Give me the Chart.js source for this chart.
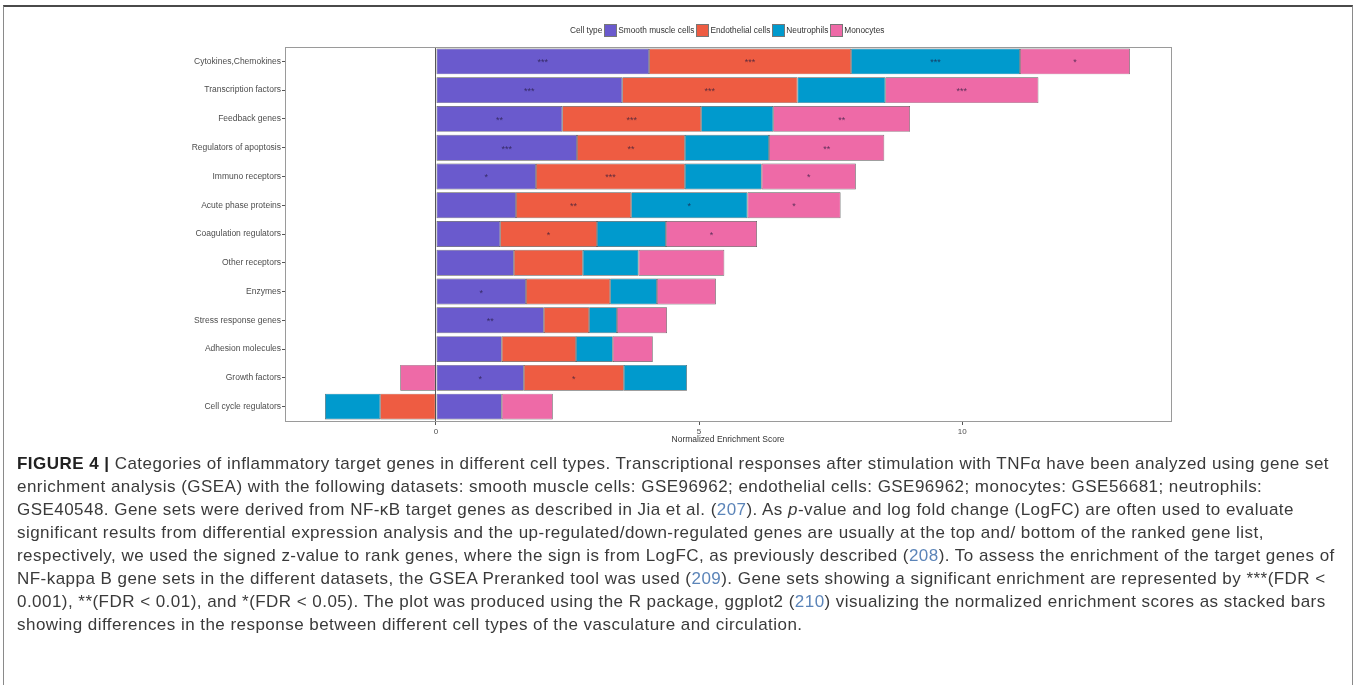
<!DOCTYPE html>
<html>
<head>
<meta charset="utf-8">
<script src="https://cdn.jsdelivr.net/npm/chart.js@4.4.0/dist/chart.umd.min.js"></script>
<style>
  html, body { margin: 0; padding: 0; background: #fff; }
  body { width: 1358px; height: 685px; position: relative; overflow: hidden; font-family: 'Liberation Sans', Arial, sans-serif; }
  #frame { position: absolute; left: 3px; top: 5px; width: 1350px; height: 720px; border-left: 1px solid #8a8a8a; border-right: 1px solid #8a8a8a; border-top: 2px solid #4a4a4a; box-sizing: border-box; }
  #chartWrap { position: absolute; left: 0; top: 0; width: 1358px; height: 455px; }
  #legend { position: absolute; left: 570px; top: 23px; height: 14px; display: flex; align-items: center; font-size: 8.3px; color: #333; white-space: nowrap; }
  #legend .ttl { margin-right: 2px; }
  #legend .item { display: flex; align-items: center; margin-right: 2px; }
  #legend .box { width: 13px; height: 13px; box-sizing: border-box; border: 1px solid #777; margin-right: 1px; }
  #caption { position: absolute; left: 17px; top: 452px; font-size: 17px; line-height: 23px; color: #3a3a3a; white-space: nowrap; }
  #caption b { color: #222; }
  #caption .ref { color: #5b84b8; }
</style>
</head>
<body>
<div id="frame"></div>
<div id="chartWrap"><canvas id="c" width="1358" height="455"></canvas></div>
<div id="legend"></div>
<div id="caption">
<div class="ln"><b>FIGURE 4 |</b> Categories of inflammatory target genes in different cell types. Transcriptional responses after stimulation with TNFα have been analyzed using gene set</div>
<div class="ln">enrichment analysis (GSEA) with the following datasets: smooth muscle cells: GSE96962; endothelial cells: GSE96962; monocytes: GSE56681; neutrophils:</div>
<div class="ln">GSE40548. Gene sets were derived from NF-κB target genes as described in Jia et al. (<span class="ref">207</span>). As <i>p</i>-value and log fold change (LogFC) are often used to evaluate</div>
<div class="ln">significant results from differential expression analysis and the up-regulated/down-regulated genes are usually at the top and/ bottom of the ranked gene list,</div>
<div class="ln">respectively, we used the signed z-value to rank genes, where the sign is from LogFC, as previously described (<span class="ref">208</span>). To assess the enrichment of the target genes of</div>
<div class="ln">NF-kappa B gene sets in the different datasets, the GSEA Preranked tool was used (<span class="ref">209</span>). Gene sets showing a significant enrichment are represented by ***(FDR &lt;</div>
<div class="ln">0.001), **(FDR &lt; 0.01), and *(FDR &lt; 0.05). The plot was produced using the R package, ggplot2 (<span class="ref">210</span>) visualizing the normalized enrichment scores as stacked bars</div>
<div class="ln">showing differences in the response between different cell types of the vasculature and circulation.</div>
</div>
<script>
// ---------------- DATA ----------------
const categories = ["Cytokines,Chemokines","Transcription factors","Feedback genes","Regulators of apoptosis","Immuno receptors","Acute phase proteins","Coagulation regulators","Other receptors","Enzymes","Stress response genes","Adhesion molecules","Growth factors","Cell cycle regulators"];
const seriesNames = ["Smooth muscle cells","Endothelial cells","Neutrophils","Monocytes"];
const smoothMuscle = [4.05,3.54,2.40,2.68,1.90,1.52,1.22,1.48,1.71,2.05,1.25,1.67,1.25];
const endothelial  = [3.84,3.33,2.64,2.05,2.83,2.19,1.84,1.31,1.60,0.86,1.41,1.90,-1.06];
const neutrophils  = [3.21,1.67,1.37,1.60,1.46,2.21,1.31,1.06,0.89,0.53,0.70,1.20,-1.05];
const monocytes    = [2.09,2.91,2.60,2.19,1.79,1.77,1.73,1.63,1.12,0.95,0.76,-0.68,0.97];
const smoothStars = ["***","***","**","***","*","","","","*","**","","*",""];
const endoStars   = ["***","***","***","**","***","**","*","","","","","*",""];
const neutStars   = ["***","","","","","*","","","","","","",""];
const monoStars   = ["*","***","**","**","*","*","*","","","","","",""];
const xTickValues = [0,5,10];
const xMin = -2.87, xMax = 13.97;
const legendTitle = "Cell type";
const xTitle = "Normalized Enrichment Score";
// --------------------------------------

const colors = ["#6A5ACD","#EE5C42","#009ACD","#EE6AA7"];
const values = [smoothMuscle, endothelial, neutrophils, monocytes];
const stars = [smoothStars, endoStars, neutStars, monoStars];

Chart.defaults.font.family = "'Liberation Sans', Arial, sans-serif";

const panelPlugin = {
  id: 'panel',
  afterDatasetsDraw(chart) {
    const ctx = chart.ctx;
    chart.data.datasets.forEach((ds, di) => {
      const meta = chart.getDatasetMeta(di);
      meta.data.forEach((el, i) => {
        const s = ds.stars[i];
        if (!s) return;
        ctx.save();
        ctx.fillStyle = 'rgba(30,20,55,0.7)';
        ctx.font = "9px 'Liberation Sans', Arial, sans-serif";
        ctx.textAlign = 'center';
        ctx.textBaseline = 'middle';
        ctx.fillText(s, (el.x + el.base) / 2, el.y + 1.5);
        ctx.restore();
      });
    });
    const a = chart.chartArea;
    ctx.save();
    ctx.strokeStyle = '#9a9a9a';
    ctx.lineWidth = 1;
    ctx.strokeRect(Math.round(a.left) + 0.5, Math.round(a.top) + 0.5, Math.round(a.right - a.left), Math.round(a.bottom - a.top));
    ctx.restore();
  }
};

new Chart(document.getElementById('c'), {
  type: 'bar',
  data: {
    labels: categories,
    datasets: seriesNames.map((n, k) => ({
      label: n,
      data: values[k],
      stars: stars[k],
      backgroundColor: colors[k],
      borderColor: 'rgba(55,55,55,0.85)',
      borderWidth: 0.7,
      borderSkipped: false,
      barPercentage: 0.9,
      categoryPercentage: 1.0
    }))
  },
  options: {
    indexAxis: 'y',
    responsive: false,
    animation: false,
    events: [],
    layout: { padding: { left: 0, right: 187, top: 47, bottom: 0 } },
    plugins: { legend: { display: false }, tooltip: { enabled: false } },
    scales: {
      x: {
        type: 'linear',
        stacked: true,
        min: xMin,
        max: xMax,
        afterBuildTicks(scale) { scale.ticks = xTickValues.map(v => ({ value: v })); },
        afterFit(scale) { scale.height = 34; },
        border: { display: false },
        grid: {
          drawOnChartArea: true,
          drawTicks: true,
          tickLength: 4,
          color: (c) => (c.tick && c.tick.value === 0) ? 'rgba(70,70,70,0.9)' : 'rgba(0,0,0,0)',
          tickColor: '#555',
          lineWidth: 1
        },
        ticks: { color: '#4d4d4d', font: { size: 8 }, padding: 2, maxRotation: 0 },
        title: { display: true, text: xTitle, color: '#333', font: { size: 8.5 }, padding: { top: 0, bottom: 10 } }
      },
      y: {
        type: 'category',
        stacked: true,
        afterFit(scale) { scale.width = 285; },
        border: { display: false },
        grid: { offset: false, drawOnChartArea: false, drawTicks: true, tickLength: 3, tickColor: '#555' },
        ticks: { color: '#4d4d4d', font: { size: 8.5 }, padding: 1, autoSkip: false }
      }
    }
  },
  plugins: [panelPlugin]
});

// HTML legend
const lg = document.getElementById('legend');
const t = document.createElement('span'); t.className = 'ttl'; t.textContent = legendTitle; lg.appendChild(t);
seriesNames.forEach((n, k) => {
  const it = document.createElement('span'); it.className = 'item';
  const b = document.createElement('span'); b.className = 'box'; b.style.background = colors[k];
  const l = document.createElement('span'); l.textContent = n;
  it.appendChild(b); it.appendChild(l); lg.appendChild(it);
});

// fit caption letter-spacing so first line spans ~1312px
(function(){
  const lines = document.querySelectorAll('#caption .ln');
  const first = lines[0];
  const s = document.createElement('span'); s.innerHTML = first.innerHTML; first.innerHTML = ''; first.appendChild(s);
  const w = s.getBoundingClientRect().width;
  const n = s.textContent.length;
  const ls = (1312 - w) / n;
  document.getElementById('caption').style.letterSpacing = ls + 'px';
})();
</script>
</body>
</html>
